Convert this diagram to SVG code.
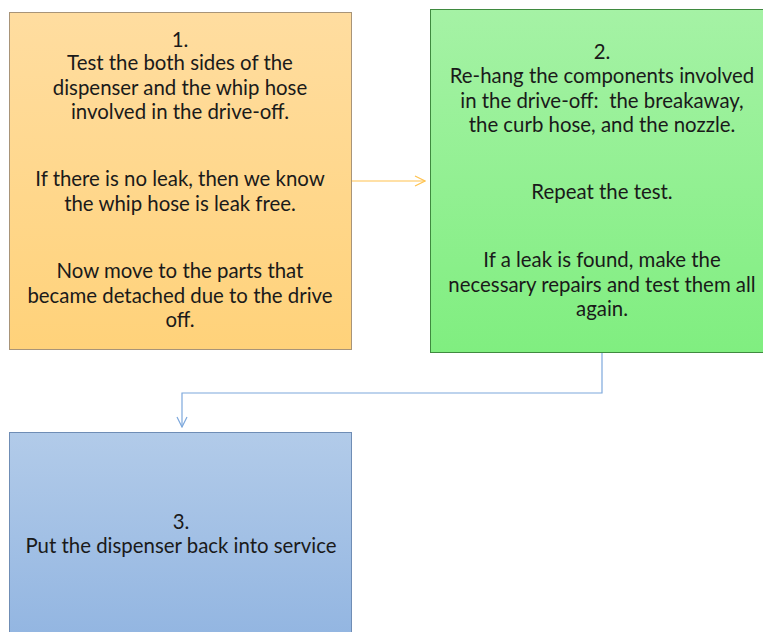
<svg xmlns="http://www.w3.org/2000/svg" width="763" height="632" viewBox="0 0 763 632">
<style>
text{font-family:Lato,"Open Sans","Liberation Sans",sans-serif;font-size:20.4px;fill:#1a1a1a;text-anchor:middle;white-space:pre}
.c{fill:none;stroke-width:1.2}
</style>
<defs>
<linearGradient id="g1" x1="0" y1="0" x2="0" y2="1"><stop offset="0" stop-color="#FFDDA0"/><stop offset="1" stop-color="#FFD27A"/></linearGradient>
<linearGradient id="g2" x1="0" y1="0" x2="0" y2="1"><stop offset="0" stop-color="#A5F2A5"/><stop offset="1" stop-color="#80EE80"/></linearGradient>
<linearGradient id="g3" x1="0" y1="0" x2="0" y2="1"><stop offset="0" stop-color="#B2CBE9"/><stop offset="1" stop-color="#92B5E1"/></linearGradient>
<marker id="a1" viewBox="0 0 12 12" refX="11" refY="6" markerWidth="12" markerHeight="12" markerUnits="userSpaceOnUse" orient="auto"><path d="M1,1 L11,6 L1,11" fill="none" stroke="#FFC24F" stroke-width="1.2"/></marker>
<marker id="a2" viewBox="0 0 12 12" refX="11" refY="6" markerWidth="12" markerHeight="12" markerUnits="userSpaceOnUse" orient="auto"><path d="M1,1 L11,6 L1,11" fill="none" stroke="#7DA8DC" stroke-width="1.2"/></marker>
</defs>
<rect width="763" height="632" fill="#fff"/>
<g id="connectors">
<path class="c" d="M351,181 H425" stroke="#FFC24F" marker-end="url(#a1)"/>
<path class="c" d="M602,353 V393 H182 V427" stroke="#7DA8DC" marker-end="url(#a2)"/>
</g>
<g id="node1">
<rect x="9.5" y="12.5" width="342" height="337" fill="url(#g1)" stroke="#A89478"/>
<text x="180" y="47">1.</text>
<text x="180" y="70">Test the both sides of the</text>
<text x="180" y="95">dispenser and the whip hose</text>
<text x="180" y="119">involved in the drive-off.</text>
<text x="180" y="186">If there is no leak, then we know</text>
<text x="180" y="211">the whip hose is leak free.</text>
<text x="180" y="278">Now move to the parts that</text>
<text x="180" y="303">became detached due to the drive</text>
<text x="180" y="327">off.</text>
</g>
<g id="node2">
<rect x="430.5" y="9.5" width="340" height="343" fill="url(#g2)" stroke="#3F8A3F"/>
<text x="602" y="59">2.</text>
<text x="602" y="83">Re-hang the components involved</text>
<text x="602" y="108">in the drive-off:  the breakaway,</text>
<text x="602" y="132">the curb hose, and the nozzle.</text>
<text x="602" y="199">Repeat the test.</text>
<text x="602" y="267">If a leak is found, make the</text>
<text x="602" y="292">necessary repairs and test them all</text>
<text x="602" y="316">again.</text>
</g>
<g id="node3">
<rect x="9.5" y="432.5" width="342" height="210" fill="url(#g3)" stroke="#6F8DB5"/>
<text x="181" y="529">3.</text>
<text x="181" y="553">Put the dispenser back into service</text>
</g>
</svg>
